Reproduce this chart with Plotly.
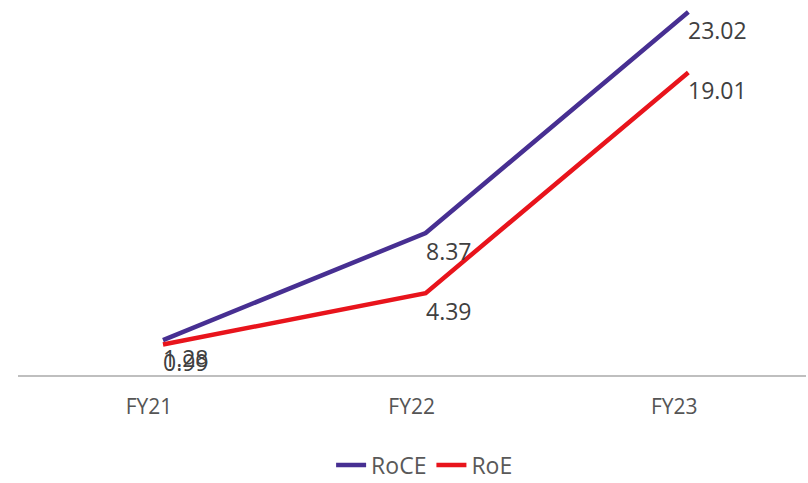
import plotly.graph_objects as go

years = ["FY21", "FY22", "FY23"]
roce = [1.28, 8.37, 23.02]
roe = [0.99, 4.39, 19.01]

series = [
    ("RoCE", roce, "#472F92"),
    ("RoE", roe, "#E8141C"),
]

fig = go.Figure()
annotations = []
for name, vals, color in series:
    fig.add_trace(go.Scatter(
        x=years, y=vals, name=name,
        mode="lines",
        line=dict(color=color, width=4.5),
        cliponaxis=False,
    ))
    # value labels just below-right of each point
    for yr, v in zip(years, vals):
        annotations.append(dict(
            x=yr, y=v, xref="x", yref="y",
            text=f"{v:.2f}", showarrow=False,
            xanchor="left", yanchor="top", xshift=-2, yshift=0,
            font=dict(family="Open Sans", size=23, color="#404040"),
        ))

fig.update_layout(
    width=808, height=483,
    margin=dict(l=18, r=2, t=5, b=107, autoexpand=False),
    paper_bgcolor="white", plot_bgcolor="white",
    showlegend=True,
    legend=dict(
        orientation="h", x=0.516, xanchor="center",
        yref="container", y=0.037, yanchor="middle",
        font=dict(family="Open Sans", size=23, color="#595959"),
        itemwidth=30,
    ),
    xaxis=dict(
        type="category",
        range=[-0.552, 2.448], showgrid=False, zeroline=False,
        showline=False, ticks="",
        ticklabelshift=-14, ticklabelstandoff=16,
        tickfont=dict(family="Open Sans", size=21, color="#555555"),
    ),
    yaxis=dict(
        range=[-1.1, 23.48], showgrid=False, zeroline=False,
        showticklabels=False, showline=False,
    ),
    annotations=annotations,
    shapes=[dict(type="line", xref="paper", yref="paper", x0=0, x1=1, y0=0, y1=0,
                 line=dict(color="#BFBFBF", width=2))],
)

fig.write_html("out.html")
